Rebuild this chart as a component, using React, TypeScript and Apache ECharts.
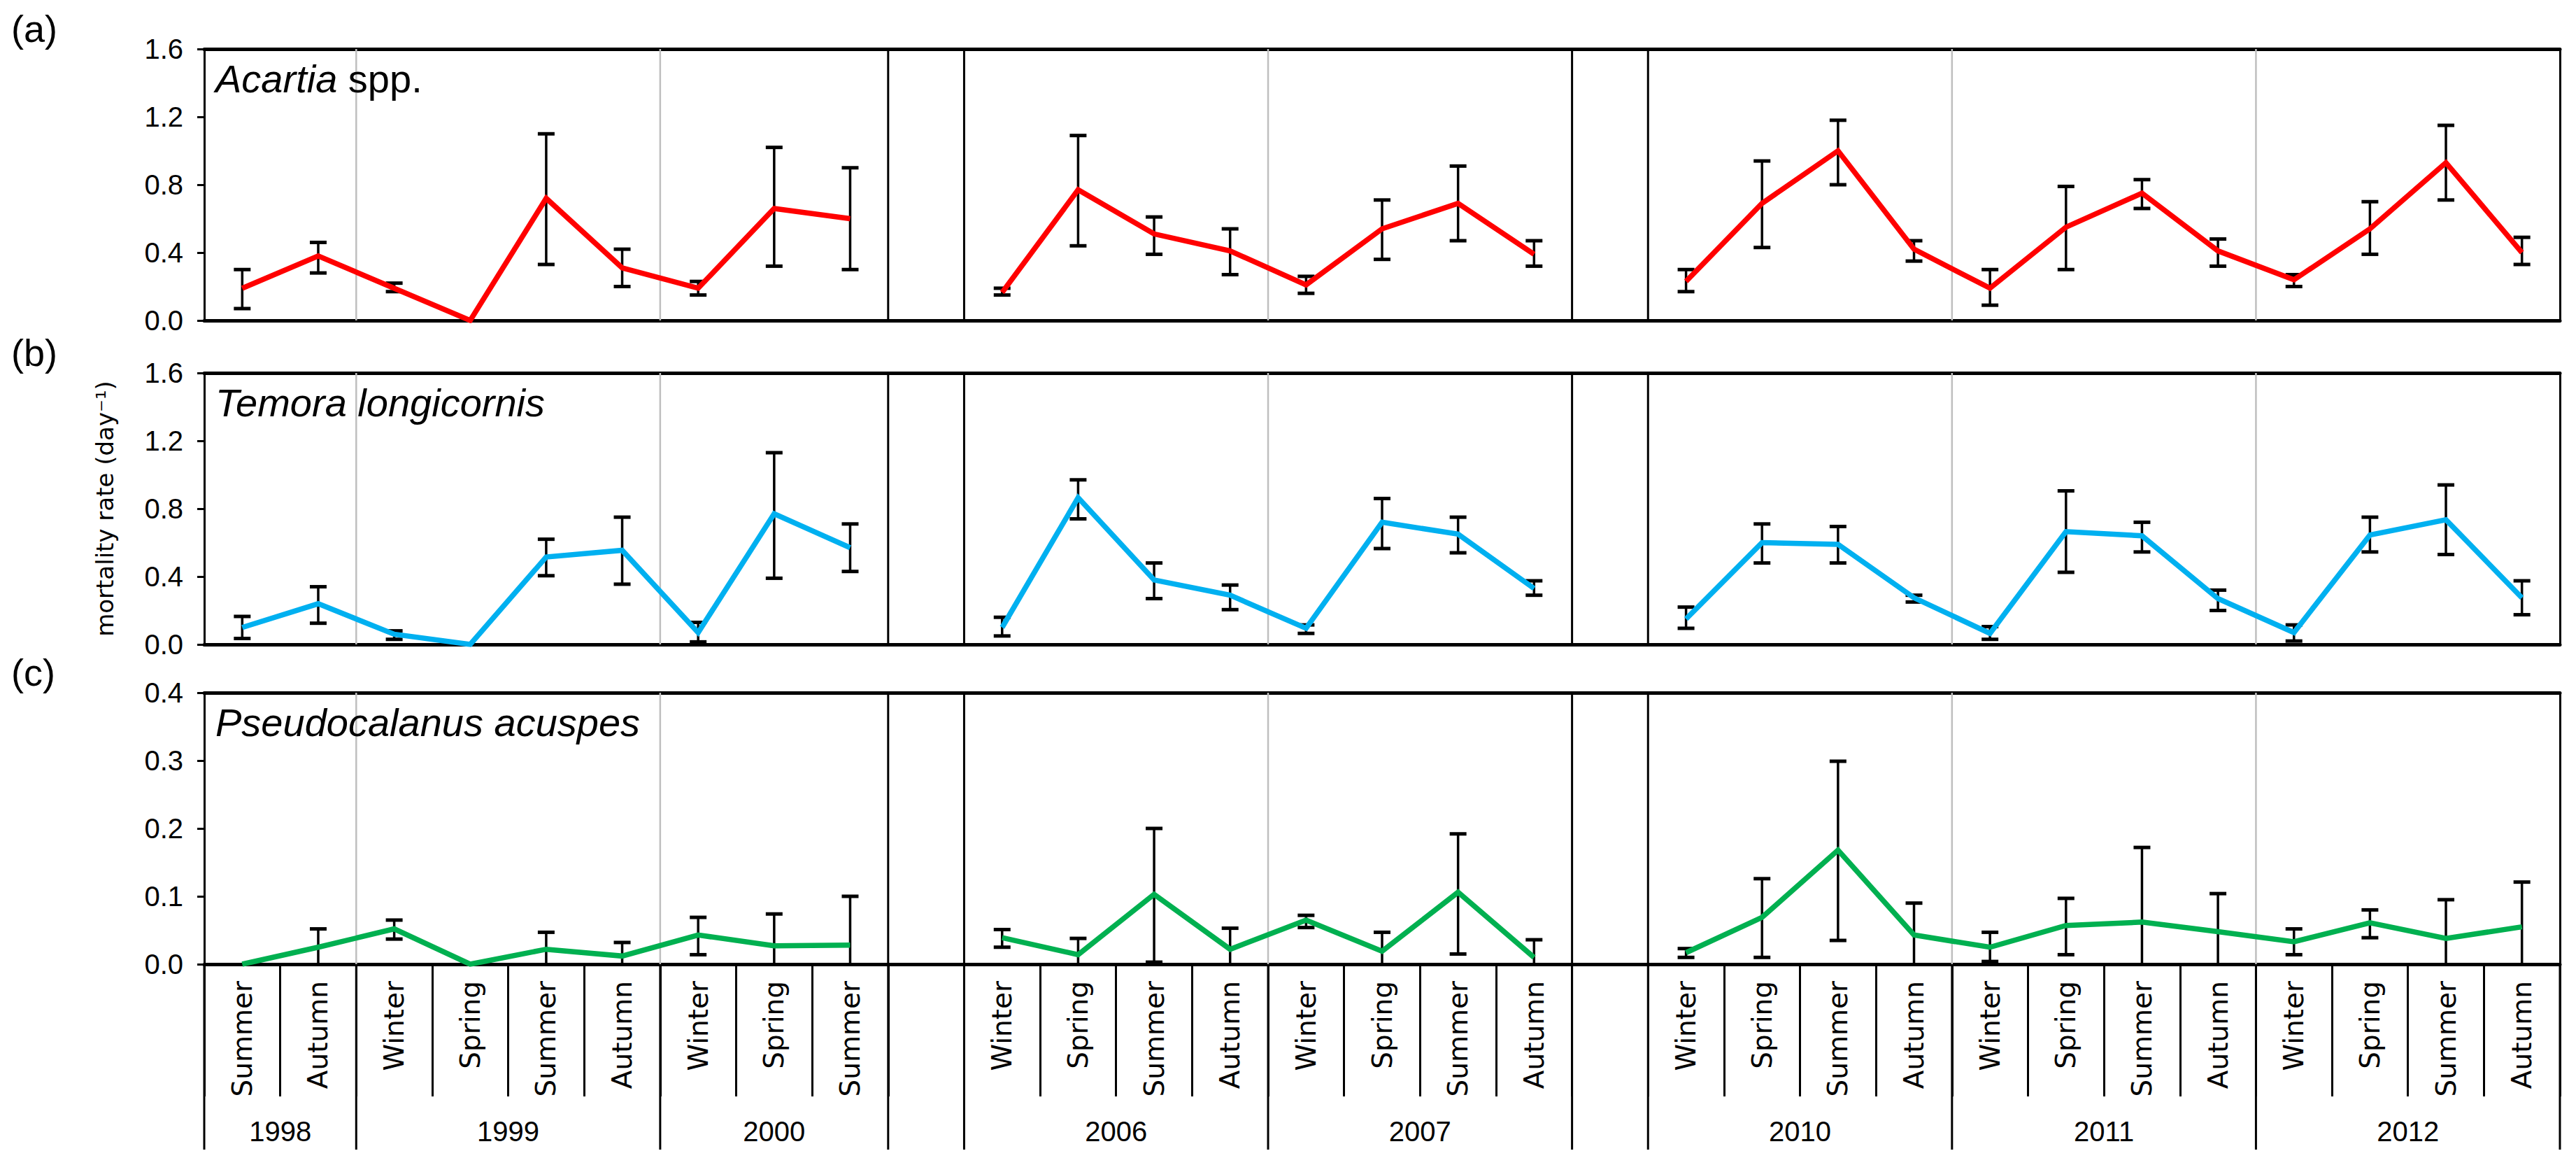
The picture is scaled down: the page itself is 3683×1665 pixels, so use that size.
import React, { useEffect, useRef } from "react";
import * as echarts from "echarts";

// ---------- data ----------
const seasons = [
  "Summer", "Autumn", "Winter", "Spring", "Summer", "Autumn", "Winter", "Spring", "Summer", "",
  "Winter", "Spring", "Summer", "Autumn", "Winter", "Spring", "Summer", "Autumn", "",
  "Winter", "Spring", "Summer", "Autumn", "Winter", "Spring", "Summer", "Autumn",
  "Winter", "Spring", "Summer", "Autumn",
];
const yearLabels = ["1998", "1999", "2000", "2006", "2007", "2010", "2011", "2012"];
const yearFirst = [0, 2, 6, 10, 14, 19, 23, 27];
const yearLast = [1, 5, 8, 13, 17, 22, 26, 30];

// boundaries (between categories) drawn inside panels: 0 = grey year line, 1 = black gap line
const panelBoundaries = [2, 6, 9, 10, 14, 18, 19, 23, 27];
const panelBoundaryKinds = [0, 0, 1, 1, 0, 1, 1, 0, 0];
// long separators below the lowest axis
const yearBoundaries = [0, 2, 6, 9, 10, 14, 18, 19, 23, 27, 31];

const acartiaMean = [0.19, 0.38, 0.19, 0.0, 0.72, 0.31, 0.19, 0.66, 0.6, null, 0.165, 0.77, 0.51, 0.41, 0.21, 0.54, 0.69, 0.39, null, 0.23, 0.69, 1.0, 0.42, 0.19, 0.55, 0.75, 0.41, 0.24, 0.54, 0.93, 0.4];
const acartiaHigh = [0.3, 0.46, 0.22, null, 1.1, 0.42, 0.23, 1.02, 0.9, null, 0.19, 1.09, 0.61, 0.54, 0.26, 0.71, 0.91, 0.47, null, 0.3, 0.94, 1.18, 0.47, 0.3, 0.79, 0.83, 0.48, 0.27, 0.7, 1.15, 0.49];
const acartiaLow = [0.07, 0.28, 0.17, null, 0.33, 0.2, 0.15, 0.32, 0.3, null, 0.15, 0.44, 0.39, 0.27, 0.16, 0.36, 0.47, 0.32, null, 0.17, 0.43, 0.8, 0.35, 0.09, 0.3, 0.66, 0.32, 0.2, 0.39, 0.71, 0.33];

const temoraMean = [0.1, 0.24, 0.06, 0.0, 0.515, 0.555, 0.07, 0.77, 0.57, null, 0.1, 0.865, 0.38, 0.29, 0.095, 0.72, 0.65, 0.33, null, 0.15, 0.6, 0.59, 0.275, 0.065, 0.665, 0.64, 0.27, 0.07, 0.645, 0.735, 0.275];
const temoraHigh = [0.165, 0.34, 0.08, null, 0.62, 0.75, 0.13, 1.13, 0.71, null, 0.16, 0.97, 0.48, 0.35, 0.115, 0.86, 0.75, 0.375, null, 0.22, 0.71, 0.695, 0.29, 0.105, 0.905, 0.72, 0.32, 0.115, 0.75, 0.94, 0.375];
const temoraLow = [0.035, 0.125, 0.03, null, 0.405, 0.355, 0.015, 0.39, 0.43, null, 0.05, 0.74, 0.27, 0.205, 0.065, 0.565, 0.54, 0.29, null, 0.095, 0.48, 0.48, 0.25, 0.03, 0.425, 0.545, 0.2, 0.02, 0.545, 0.53, 0.175];

const pseudoMean = [0.0, 0.025, 0.052, 0.0, 0.022, 0.012, 0.043, 0.027, 0.028, null, 0.039, 0.014, 0.103, 0.022, 0.065, 0.019, 0.106, 0.01, null, 0.017, 0.069, 0.168, 0.043, 0.025, 0.057, 0.062, 0.048, 0.033, 0.061, 0.038, 0.055];
const pseudoHigh = [null, 0.052, 0.065, null, 0.047, 0.032, 0.069, 0.074, 0.1, null, 0.051, 0.038, 0.2, 0.053, 0.072, 0.047, 0.192, 0.036, null, 0.023, 0.126, 0.299, 0.09, 0.047, 0.097, 0.172, 0.104, 0.052, 0.08, 0.095, 0.121];
const pseudoLow = [null, 0, 0.037, null, 0, 0, 0.014, 0, 0, null, 0.025, 0, 0.003, 0, 0.054, 0, 0.015, 0, null, 0.01, 0.01, 0.035, 0, 0.004, 0.014, 0, 0, 0.014, 0.039, 0, 0];

const panelLetters = ["(a)", "(b)", "(c)"];
const speciesItalic = ["Acartia", "Temora longicornis", "Pseudocalanus acuspes"];
const speciesPlain = [" spp.", "", ""];
const yMax = [1.6, 1.6, 0.4];
const yStep = [0.4, 0.4, 0.1];
const yTitle = "mortality rate (day\u207B\u00B9)";

const FONT = "'Liberation Sans', Arial, sans-serif";
const VFONT = "'DejaVu Sans', Verdana, sans-serif";

export default function App() {
  const ref = useRef<HTMLDivElement>(null);

  useEffect(() => {
    document.body.style.margin = "0";
    if (!ref.current) return;
    const chart = echarts.init(ref.current, undefined, { renderer: "svg" });

    const tops = [70, 533, 990];
    const panelH = 388;
    const means = [acartiaMean, temoraMean, pseudoMean];
    const highs = [acartiaHigh, temoraHigh, pseudoHigh];
    const lows = [acartiaLow, temoraLow, pseudoLow];
    const colors = ["#FF0000", "#00B0F0", "#00B050"];

    const grid: any[] = [];
    const xAxis: any[] = [];
    const yAxis: any[] = [];
    const series: any[] = [];
    const title: any[] = [];

    for (let g = 0; g < 3; g++) {
      grid.push({ left: 292, right: 23, top: tops[g], height: panelH, outerBoundsMode: "none" });
      xAxis.push({
        type: "category",
        gridIndex: g,
        data: seasons,
        boundaryGap: true,
        axisLine: { show: true, lineStyle: { color: "#000", width: 5 } },
        axisTick:
          g === 2
            ? { show: true, interval: 0, length: 189, lineStyle: { color: "#000", width: 3 } }
            : { show: false },
        axisLabel:
          g === 2
            ? { show: true, interval: 0, rotate: 90, fontSize: 39, fontFamily: VFONT, color: "#000", margin: 24 }
            : { show: false },
        splitLine: { show: false },
      });
      xAxis.push({
        type: "value",
        gridIndex: g,
        position: "top",
        min: 0,
        max: 1,
        axisLine: { show: true, onZero: false, lineStyle: { color: "#000", width: 5 } },
        axisTick: { show: false },
        axisLabel: { show: false },
        splitLine: { show: false },
      });
      yAxis.push({
        type: "value",
        gridIndex: g,
        min: 0,
        max: yMax[g],
        interval: yStep[g],
        axisLine: { show: true, lineStyle: { color: "#000", width: 3 } },
        axisTick: { show: true, length: 10, lineStyle: { color: "#000", width: 3 } },
        axisLabel: {
          formatter: (v: number) => v.toFixed(1),
          fontSize: 40,
          fontFamily: FONT,
          color: "#000",
          margin: 30,
        },
        splitLine: { show: false },
      });
      yAxis.push({
        type: "value",
        gridIndex: g,
        position: "right",
        min: 0,
        max: 1,
        axisLine: { show: true, lineStyle: { color: "#000", width: 3 } },
        axisTick: { show: false },
        axisLabel: { show: false },
        splitLine: { show: false },
      });

      // vertical separators inside panel
      series.push({
        type: "custom",
        xAxisIndex: 2 * g,
        yAxisIndex: 2 * g,
        z: 1,
        silent: true,
        data: panelBoundaries.map((b, i) => [Math.min(b, 30), b > 30 ? 1 : -1, panelBoundaryKinds[i]]),
        renderItem: (params: any, api: any) => {
          const idx = api.value(0);
          const side = api.value(1);
          const kind = api.value(2);
          const cs = params.coordSys;
          const band = api.size([1, 0], [idx, 0])[0];
          const x = api.coord([idx, 0])[0] + (side * band) / 2;
          return {
            type: "line",
            shape: { x1: x, y1: cs.y, x2: x, y2: cs.y + cs.height },
            style: { stroke: kind ? "#000" : "#BFBFBF", lineWidth: kind ? 3 : 2.5 },
          };
        },
      });

      // error bars
      const ebData: any[] = [];
      means[g].forEach((m, i) => {
        if (highs[g][i] != null && lows[g][i] != null) ebData.push([i, lows[g][i], highs[g][i]]);
      });
      series.push({
        type: "custom",
        xAxisIndex: 2 * g,
        yAxisIndex: 2 * g,
        z: 2,
        silent: true,
        encode: { x: 0, y: [1, 2] },
        data: ebData,
        renderItem: (params: any, api: any) => {
          const idx = api.value(0);
          const lo = api.value(1);
          const hi = api.value(2);
          const pHi = api.coord([idx, hi]);
          const pLo = api.coord([idx, lo]);
          const cw = 12;
          const children: any[] = [
            {
              type: "line",
              shape: { x1: pHi[0], y1: pHi[1], x2: pLo[0], y2: pLo[1] },
              style: { stroke: "#000", lineWidth: 3.5 },
            },
            {
              type: "line",
              shape: { x1: pHi[0] - cw, y1: pHi[1], x2: pHi[0] + cw, y2: pHi[1] },
              style: { stroke: "#000", lineWidth: 5 },
            },
          ];
          if (lo > 0) {
            children.push({
              type: "line",
              shape: { x1: pLo[0] - cw, y1: pLo[1], x2: pLo[0] + cw, y2: pLo[1] },
              style: { stroke: "#000", lineWidth: 5 },
            });
          }
          return { type: "group", children };
        },
      });

      // mean line
      series.push({
        type: "line",
        xAxisIndex: 2 * g,
        yAxisIndex: 2 * g,
        z: 3,
        data: means[g],
        symbol: "none",
        connectNulls: false,
        lineStyle: { color: colors[g], width: 7.5, join: "miter" },
        itemStyle: { color: colors[g] },
      });

      title.push({
        text: panelLetters[g],
        left: 16,
        top: tops[g] - 56,
        padding: 0,
        textStyle: { fontSize: 54, fontWeight: "normal", fontFamily: FONT, color: "#000" },
      });
      title.push({
        text: "{i|" + speciesItalic[g] + "}{n|" + speciesPlain[g] + "}",
        left: 308,
        top: tops[g] + 14,
        padding: 0,
        textStyle: {
          fontSize: 56,
          fontWeight: "normal",
          fontFamily: FONT,
          color: "#000",
          rich: {
            i: { fontSize: 56, fontStyle: "italic", fontFamily: FONT, color: "#000" },
            n: { fontSize: 56, fontStyle: "normal", fontFamily: FONT, color: "#000" },
          },
        },
      });
    }

    // long separators below lowest panel
    series.push({
      type: "custom",
      xAxisIndex: 4,
      yAxisIndex: 4,
      z: 1,
      silent: true,
      clip: false,
      data: yearBoundaries.map((b) => [Math.min(b, 30), b > 30 ? 1 : -1]),
      renderItem: (params: any, api: any) => {
        const idx = api.value(0);
        const side = api.value(1);
        const cs = params.coordSys;
        const band = api.size([1, 0], [idx, 0])[0];
        const x = api.coord([idx, 0])[0] + (side * band) / 2;
        const y0 = cs.y + cs.height;
        return {
          type: "line",
          shape: { x1: x, y1: y0, x2: x, y2: y0 + 265 },
          style: { stroke: "#000", lineWidth: 3 },
        };
      },
    });

    // year labels
    series.push({
      type: "custom",
      xAxisIndex: 4,
      yAxisIndex: 4,
      z: 1,
      silent: true,
      clip: false,
      data: yearFirst.map((f, i) => [f, yearLast[i]]),
      renderItem: (params: any, api: any) => {
        const a = api.coord([api.value(0), 0])[0];
        const b = api.coord([api.value(1), 0])[0];
        const cs = params.coordSys;
        return {
          type: "text",
          style: {
            text: yearLabels[params.dataIndex],
            x: (a + b) / 2,
            y: cs.y + cs.height + 239,
            fill: "#000",
            font: "40px " + FONT,
            align: "center",
            verticalAlign: "middle",
          },
        };
      },
    });

    chart.setOption({
      animation: false,
      backgroundColor: "#fff",
      title,
      grid,
      xAxis,
      yAxis,
      series,
      graphic: [
        {
          type: "text",
          x: 150,
          y: 727,
          rotation: Math.PI / 2,
          style: {
            text: yTitle,
            fill: "#000",
            font: "34px " + VFONT,
            align: "center",
            verticalAlign: "middle",
          },
        },
      ],
    });

    return () => chart.dispose();
  }, []);

  return <div ref={ref} style={{ width: 3683, height: 1665 }} />;
}
